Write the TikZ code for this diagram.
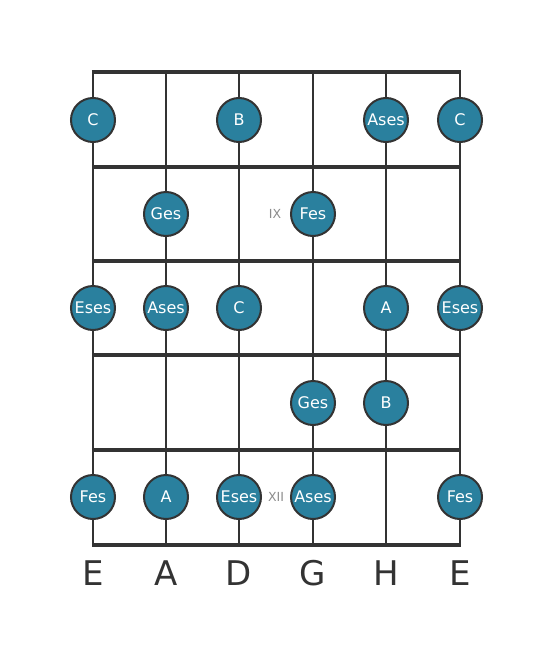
\documentclass[tikz,border=0pt]{standalone}
\usepackage{fontspec}
\setmainfont{DejaVu Sans}
\definecolor{notefill}{HTML}{2A809E}
\definecolor{boardline}{HTML}{333333}
\begin{document}
\begin{tikzpicture}[x=1pt,y=-1pt,
		note/.style={draw=boardline,line width=2pt,shape=circle,fill=notefill,minimum size=44pt,inner sep=0pt,text=white,font=\fontsize{16}{17}\selectfont},
		fret/.style={draw=boardline,line width=4pt},
		string/.style={draw=boardline,line width=2.5pt},
		fretnum/.style={text=gray!90,font=\fontsize{12.5}{13}\selectfont},
		tuning/.style={text=boardline,font=\fontsize{34}{36}\selectfont}]
		\useasboundingbox (0,0) rectangle (553,656);
		
		% strings
		\foreach \s/\x in {1/93,2/166,3/239,4/313,5/386,6/460} {
			\coordinate (top\s) at (\x,72);
			\coordinate (bot\s) at (\x,545);
			\draw[string] (top\s) -- (bot\s);
		}
		% frets
		\foreach \f/\y in {0/72,1/167,2/261,3/355,4/450,5/545} {
			\coordinate (fl\f) at (91.75,\y);
			\coordinate (fr\f) at (461.25,\y);
			\draw[fret] (fl\f) -- (fr\f);
		}
		
		% fret numbers
		\node[fretnum] (ix) at (275,214) {IX};
		\node[fretnum] (xii) at (276,497) {XII};
		
		% notes
		\node[note] (c1) at (93,120) {C};
		\node[note] (b1) at (239,120) {B};
		\node[note] (as1) at (386,120) {Ases};
		\node[note] (c2) at (460,120) {C};
		
		\node[note] (ges1) at (166,214) {Ges};
		\node[note] (fes1) at (313,214) {Fes};
		
		\node[note] (es1) at (93,308) {Eses};
		\node[note] (as2) at (166,308) {Ases};
		\node[note] (c3) at (239,308) {C};
		\node[note] (a1) at (386,308) {A};
		\node[note] (es2) at (460,308) {Eses};
		
		\node[note] (ges2) at (313,403) {Ges};
		\node[note] (b2) at (386,403) {B};
		
		\node[note] (fes2) at (93,497) {Fes};
		\node[note] (a2) at (166,497) {A};
		\node[note] (es3) at (239,497) {Eses};
		\node[note] (as3) at (313,497) {Ases};
		\node[note] (fes3) at (460,497) {Fes};
		
		% tuning
		\foreach \s/\x/\n in {1/93/E,2/166/A,3/239/D,4/313/G,5/386/H,6/460/E}
		\node[tuning] (t\s) at (\x,573) {\n};
		\end{tikzpicture}
\end{document}
